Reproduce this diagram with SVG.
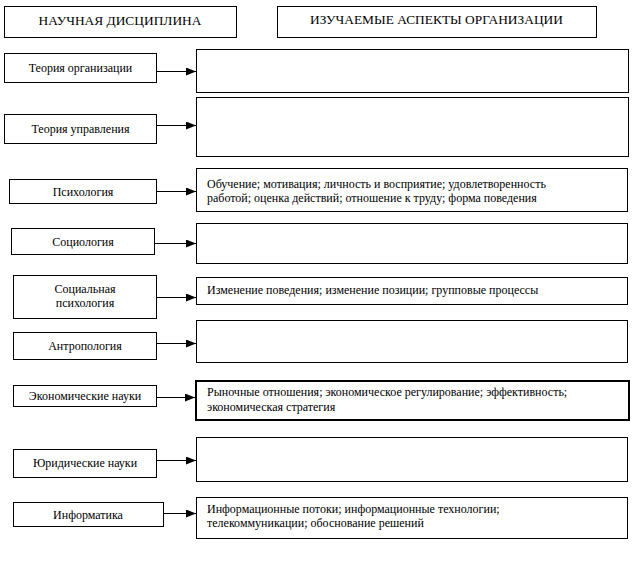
<svg xmlns="http://www.w3.org/2000/svg" width="638" height="575" viewBox="0 0 638 575" font-family="Liberation Serif, Times New Roman, serif" font-size="12">
<defs>
<style>
rect{fill:#fff;stroke:#000;stroke-width:1}
text{fill:#000}
.c{text-anchor:middle}
.thick{stroke-width:2}
.conn line{stroke:#000;stroke-width:1;marker-end:url(#ah)}
</style>
<marker id="ah" viewBox="0 0 10 8" refX="10" refY="4" markerWidth="10" markerHeight="8" markerUnits="userSpaceOnUse" orient="auto">
<path d="M0,0 L10,4 L0,8 Z" fill="#000"/>
</marker>
</defs>
<rect width="638" height="575" style="stroke:none"/>
<g id="h1"><rect x="4.5" y="6.5" width="232" height="31"/><text class="c" x="120" y="25" font-size="13.4">НАУЧНАЯ ДИСЦИПЛИНА</text></g>
<g id="h2"><rect x="277.5" y="6.5" width="319" height="31"/><text x="310" y="24" font-size="13.4">ИЗУЧАЕМЫЕ АСПЕКТЫ ОРГАНИЗАЦИИ</text></g>

<g id="n1"><rect x="4.5" y="53.5" width="152" height="29"/><text class="c" x="80.5" y="72">Теория организации</text></g>
<g id="a1"><rect x="196.5" y="49.5" width="432" height="43"/></g>

<g id="n2"><rect x="4.5" y="114.5" width="152" height="29"/><text class="c" x="80.5" y="133">Теория управления</text></g>
<g id="a2"><rect x="196.5" y="97.5" width="432" height="59"/></g>

<g id="n3"><rect x="9.5" y="179.5" width="147" height="24"/><text class="c" x="83" y="196">Психология</text></g>
<g id="a3"><rect x="196.5" y="168.5" width="431" height="43"/><text x="207" y="188">Обучение; мотивация; личность и восприятие; удовлетворенность</text><text x="207" y="202">работой; оценка действий; отношение к труду; форма поведения</text></g>

<g id="n4"><rect x="11.5" y="228.5" width="143" height="26"/><text class="c" x="83" y="246">Социология</text></g>
<g id="a4"><rect x="196.5" y="223.5" width="431" height="40"/></g>

<g id="n5"><rect x="13.5" y="275.5" width="143" height="43"/><text class="c" x="85" y="293">Социальная</text><text class="c" x="85" y="307">психология</text></g>
<g id="a5"><rect x="196.5" y="277.5" width="431" height="27"/><text x="207" y="294">Изменение поведения; изменение позиции; групповые процессы</text></g>

<g id="n6"><rect x="13.5" y="332.5" width="143" height="27"/><text class="c" x="85" y="350">Антропология</text></g>
<g id="a6"><rect x="196.5" y="320.5" width="431" height="42"/></g>

<g id="n7"><rect x="13.5" y="385.5" width="143" height="21"/><text class="c" x="85" y="400">Экономические науки</text></g>
<g id="a7"><rect class="thick" x="196" y="381" width="433" height="39"/><text x="207" y="396">Рыночные отношения; экономическое регулирование; эффективность;</text><text x="207" y="411">экономическая стратегия</text></g>

<g id="n8"><rect x="13.5" y="449.5" width="143" height="28"/><text class="c" x="85" y="467">Юридические науки</text></g>
<g id="a8"><rect x="196.5" y="437.5" width="431" height="44"/></g>

<g id="n9"><rect x="13.5" y="502.5" width="150" height="24"/><text class="c" x="88" y="519">Информатика</text></g>
<g id="a9"><rect x="196.5" y="497.5" width="431" height="41"/><text x="207" y="513">Информационные потоки; информационные технологии;</text><text x="207" y="527">телекоммуникации; обоснование решений</text></g>

<g class="conn" id="connectors">
<line x1="157" y1="71.5" x2="196" y2="71.5"/>
<line x1="157" y1="125.5" x2="196" y2="125.5"/>
<line x1="157" y1="191.5" x2="196" y2="191.5"/>
<line x1="155" y1="243.5" x2="196" y2="243.5"/>
<line x1="157" y1="297.5" x2="196" y2="297.5"/>
<line x1="157" y1="343.5" x2="196" y2="343.5"/>
<line x1="157" y1="397.5" x2="195" y2="397.5"/>
<line x1="157" y1="460.5" x2="196" y2="460.5"/>
<line x1="164" y1="513.5" x2="196" y2="513.5"/>
</g>
</svg>
